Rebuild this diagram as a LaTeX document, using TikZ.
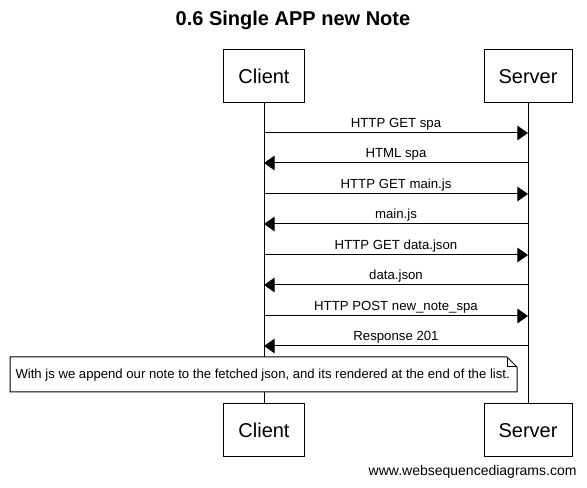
\documentclass[tikz,border=0pt]{standalone}
\usepackage{fontspec}
\setmainfont{Liberation Sans}
\usetikzlibrary{arrows.meta}
\begin{document}
\begin{tikzpicture}[x=0.75pt,y=-0.75pt,
  line width=0.75pt,
  actor/.style={draw, fill=white, minimum width=#1, minimum height=39.75pt, inner sep=0pt, font=\fontsize{15}{18}\selectfont},
  msg/.style={-{Triangle[length=8pt,width=11pt]}},
  lbl/.style={above, inner sep=1.5pt, font=\fontsize{9.9}{12}\selectfont},
  notetext/.style={anchor=west, inner sep=0pt, font=\fontsize{9.85}{12}\selectfont}]
\useasboundingbox (0,0) rectangle (587,488);
\node[font=\bfseries\fontsize{15}{18}\selectfont] (title) at (293,20) {0.6 Single APP new Note};
\node[actor=60.75pt] (ct) at (264,76.5) {Client};
\node[actor=66pt] (st) at (528,76.5) {Server};
\node[actor=60.75pt] (cb) at (264,430.5) {Client};
\node[actor=66pt] (sb) at (528,430.5) {Server};
\draw (ct.south) -- (cb.north);
\draw (st.south) -- (sb.north);
\foreach \i/\y in {1/133,2/163,3/194,4/224,5/255,6/285,7/316,8/346}{
  \coordinate (c\i) at (264,\y);
  \coordinate (s\i) at (528,\y);
}
\draw[msg] (c1) -- node[lbl]{HTTP GET spa} (s1);
\draw[msg] (s2) -- node[lbl]{HTML spa} (c2);
\draw[msg] (c3) -- node[lbl]{HTTP GET main.js} (s3);
\draw[msg] (s4) -- node[lbl]{main.js} (c4);
\draw[msg] (c5) -- node[lbl]{HTTP GET data.json} (s5);
\draw[msg] (s6) -- node[lbl]{data.json} (c6);
\draw[msg] (c7) -- node[lbl]{HTTP POST new\_note\_spa} (s7);
\draw[msg] (s8) -- node[lbl]{Response 201} (c8);
\draw[fill=white] (10,357) -- (507,357) -- (517,367) -- (517,392) -- (10,392) -- cycle;
\draw (507,357) -- (507,367) -- (517,367);
\node[notetext] (note) at (15,375) {With js we append our note to the fetched json, and its rendered at the end of the list.};
\node[anchor=east, inner sep=0pt, font=\fontsize{10.5}{12}\selectfont] (footer) at (577,472) {www.websequencediagrams.com};
\end{tikzpicture}
\end{document}
